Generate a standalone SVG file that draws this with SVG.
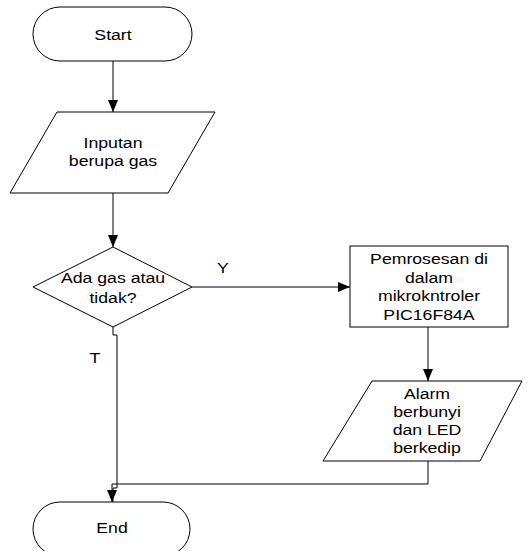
<svg xmlns="http://www.w3.org/2000/svg" width="527" height="551" viewBox="0 0 527 551">
<style>
.s{fill:#fff;stroke:#000;stroke-width:1}
.c{fill:none;stroke:#000;stroke-width:1}
text{font-family:"Liberation Sans",Arial,sans-serif;font-size:15.5px;fill:#000;text-anchor:middle}
</style>
<defs>
<marker id="a" viewBox="0 0 12 10" refX="12" refY="5" markerWidth="12" markerHeight="10" markerUnits="userSpaceOnUse" orient="auto">
<path d="M0,0 L12,5 L0,10 Z" fill="#000"/>
</marker>
</defs>
<g id="connectors">
<path class="c" d="M113,61 V112" marker-end="url(#a)"/>
<path class="c" d="M113,193 V247" marker-end="url(#a)"/>
<path class="c" d="M192,287 H350" marker-end="url(#a)"/>
<path class="c" d="M428,327 V381" marker-end="url(#a)"/>
<path class="c" d="M113,327 V335 H117 V488 H113 V502"/>
<path class="c" d="M428,461 V484 H112 V502" marker-end="url(#a)"/>
<text transform="matrix(1.14 0 0 1 223 273)" x="0" y="0">Y</text>
<text transform="matrix(1.14 0 0 1 95 363)" x="0" y="0">T</text>
</g>
<g id="start">
<rect class="s" x="33" y="7" width="159" height="54" rx="27"/>
<text transform="matrix(1.14 0 0 1 113 39.5)" x="0" y="0">Start</text>
</g>
<g id="input">
<polygon class="s" points="57,112 215,112 168,193 10,193"/>
<text transform="matrix(1.14 0 0 1 113 148)" x="0" y="0">Inputan</text>
<text transform="matrix(1.14 0 0 1 113 166)" x="0" y="0">berupa gas</text>
</g>
<g id="decision">
<polygon class="s" points="113,247 192,287 113,327 33,287"/>
<text transform="matrix(1.14 0 0 1 113 283)" x="0" y="0">Ada gas atau</text>
<text transform="matrix(1.14 0 0 1 113 303)" x="0" y="0">tidak?</text>
</g>
<g id="process">
<rect class="s" x="350" y="246" width="158" height="81"/>
<text transform="matrix(1.14 0 0 1 429 264)" x="0" y="0">Pemrosesan di</text>
<text transform="matrix(1.14 0 0 1 429 282.5)" x="0" y="0">dalam</text>
<text transform="matrix(1.14 0 0 1 429 301)" x="0" y="0">mikrokntroler</text>
<text transform="matrix(1.14 0 0 1 429 319.5)" x="0" y="0">PIC16F84A</text>
</g>
<g id="output">
<polygon class="s" points="372,381 522,381 480,461 323,461"/>
<text transform="matrix(1.14 0 0 1 427 399)" x="0" y="0">Alarm</text>
<text transform="matrix(1.14 0 0 1 427 417)" x="0" y="0">berbunyi</text>
<text transform="matrix(1.14 0 0 1 427 435)" x="0" y="0">dan LED</text>
<text transform="matrix(1.14 0 0 1 427 453)" x="0" y="0">berkedip</text>
</g>
<g id="end">
<rect class="s" x="33" y="502" width="157" height="54" rx="27"/>
<text transform="matrix(1.14 0 0 1 112 533)" x="0" y="0">End</text>
</g>
</svg>
